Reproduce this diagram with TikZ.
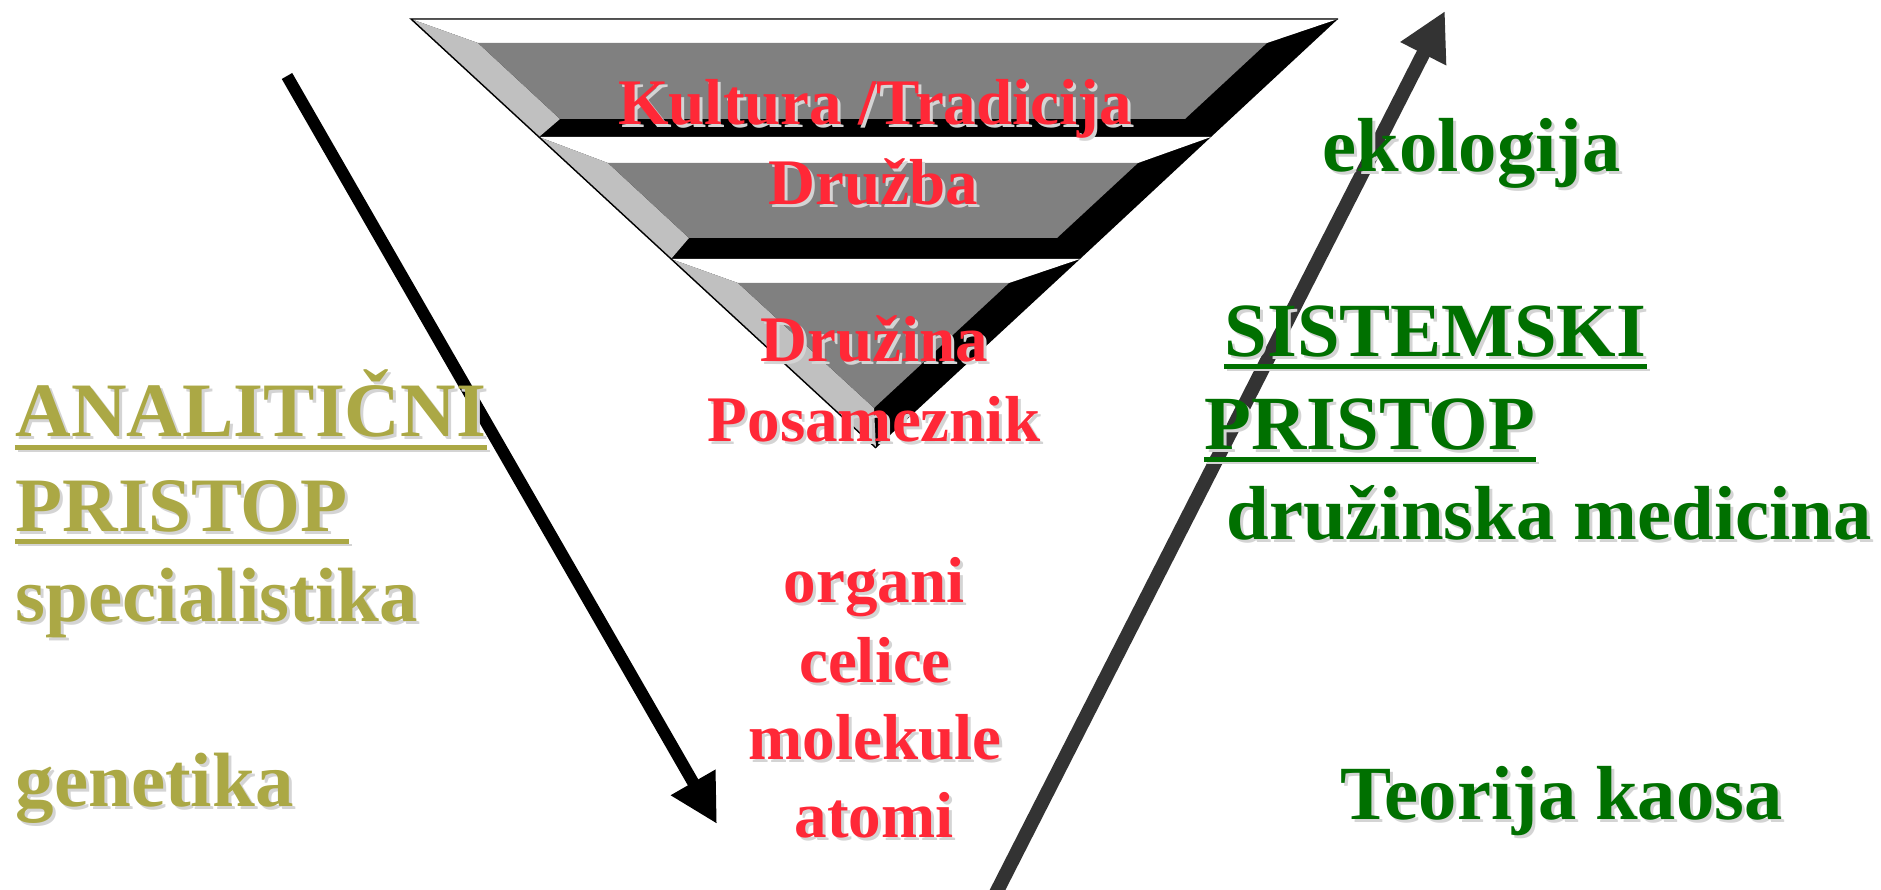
\documentclass[tikz,border=0pt]{standalone}
\usepackage{fontspec}
\setmainfont{Liberation Serif}
\usepackage{tikz}
\usetikzlibrary{arrows.meta}

\definecolor{pyrred}{HTML}{FF2837}
\definecolor{anaolive}{HTML}{ABA845}
\definecolor{sysgreen}{HTML}{007000}
\definecolor{facegray}{HTML}{808080}
\definecolor{bevelgray}{HTML}{C0C0C0}
\definecolor{shadowgray}{HTML}{D4D4D4}
\definecolor{arrowgray}{HTML}{333333}

% text with a soft drop shadow
\newcommand{\shadowed}[4]{%
  \node[#2, text=shadowgray, xshift=0.03cm, yshift=-0.03cm] (#1sh) at (#3) {#4};
  \node[#2] (#1) at (#3) {#4};
}

\begin{document}
\begin{tikzpicture}[
  line join=miter,
  layer/.style={text=pyrred, font=\fontsize{18.5}{20}\selectfont\bfseries,
    inner sep=0pt, anchor=base},
  analabel/.style={text=anaolive, font=\fontsize{21.9}{24}\selectfont\bfseries,
    inner sep=0pt, anchor=base west},
  syslabel/.style={text=sysgreen, font=\fontsize{21.8}{24}\selectfont\bfseries,
    inner sep=0pt, anchor=base west},
  uline/.style={line width=0.05cm,
    preaction={draw=shadowgray, transform canvas={shift={(0.03,-0.03)}}}},
  trend/.style={line width=0.12cm, -{Triangle[length=4.8mm,width=4.8mm]}}
]
\useasboundingbox[fill=white] (0,0) rectangle (18.81,8.90);

% Pyramid: three bevelled bands, light from the upper left
% band 1
\fill[black] (4.11,8.71) -- (13.38,8.71) -- (12.11,7.53) -- (5.39,7.53) -- cycle;
\fill[white] (4.11,8.71) -- (13.38,8.71) -- (12.67,8.47) -- (4.78,8.47) -- cycle;
\fill[bevelgray] (4.11,8.71) -- (4.78,8.47) -- (5.60,7.71) -- (5.39,7.53) -- cycle;
\fill[facegray] (4.78,8.47) -- (12.67,8.47) -- (11.85,7.71) -- (5.60,7.71) -- cycle;
% band 2
\fill[black] (5.39,7.53) -- (12.11,7.53) -- (10.80,6.31) -- (6.71,6.31) -- cycle;
\fill[white] (5.39,7.53) -- (12.11,7.53) -- (11.38,7.27) -- (6.08,7.27) -- cycle;
\fill[bevelgray] (5.39,7.53) -- (6.08,7.27) -- (6.89,6.52) -- (6.71,6.31) -- cycle;
\fill[facegray] (6.08,7.27) -- (11.38,7.27) -- (10.57,6.52) -- (6.89,6.52) -- cycle;
% band 3
\fill[black] (6.71,6.31) -- (10.80,6.31) -- (8.76,4.42) -- cycle;
\fill[white] (6.71,6.31) -- (10.80,6.31) -- (10.09,6.07) -- (7.38,6.07) -- cycle;
\fill[bevelgray] (6.71,6.31) -- (7.38,6.07) -- (8.74,4.82) -- (8.76,4.42) -- cycle;
\fill[facegray] (7.38,6.07) -- (10.09,6.07) -- (8.74,4.82) -- cycle;
\draw[line width=0.4pt] (13.38,8.71) -- (4.11,8.71) -- (8.76,4.42);

% Arrows: analysis goes down, systems thinking goes up
\coordinate (anastart) at (2.87,8.14);
\coordinate (anaend) at (7.17,0.66);
\coordinate (sysstart) at (9.95,-0.05);
\coordinate (sysend) at (14.45,8.79);
\draw[trend] (anastart) -- (anaend);
\draw[trend, arrowgray, line width=0.14cm] (sysstart) -- (sysend);

% Levels
\shadowed{kultura}{layer}{8.75,7.65}{Kultura /Tradicija}
\shadowed{druzba}{layer}{8.73,6.85}{Družba}
\shadowed{druzina}{layer}{8.74,5.28}{Družina}
\shadowed{posameznik}{layer}{8.74,4.48}{Posameznik}
\shadowed{organi}{layer}{8.74,2.87}{organi}
\shadowed{celice}{layer}{8.75,2.07}{celice}
\shadowed{molekule}{layer}{8.75,1.30}{molekule}
\shadowed{atomi}{layer}{8.74,0.52}{atomi}

% Left: analytic approach
\shadowed{analiticni}{analabel}{0.15,4.53}{ANALITIČNI}
\shadowed{anapristop}{analabel}{0.15,3.58}{PRISTOP}
\shadowed{specialistika}{analabel}{0.15,2.68}{specialistika}
\shadowed{genetika}{analabel}{0.15,0.83}{genetika}
\draw[uline, anaolive] ([yshift=-0.11cm]analiticni.base west) -- ([yshift=-0.11cm]analiticni.base east);
\draw[uline, anaolive] ([yshift=-0.10cm]anapristop.base west) -- ([yshift=-0.10cm]anapristop.base east);

% Right: systems approach
\shadowed{ekologija}{syslabel}{13.22,7.18}{ekologija}
\shadowed{sistemski}{syslabel}{12.24,5.33}{SISTEMSKI}
\shadowed{syspristop}{syslabel}{12.04,4.40}{PRISTOP}
\shadowed{medicina}{syslabel}{12.26,3.50}{družinska medicina}
\shadowed{kaos}{syslabel}{13.40,0.70}{Teorija kaosa}
\draw[uline, sysgreen] ([yshift=-0.10cm]sistemski.base west) -- ([yshift=-0.10cm]sistemski.base east);
\draw[uline, sysgreen] ([yshift=-0.10cm]syspristop.base west) -- ([yshift=-0.10cm]syspristop.base east);
\end{tikzpicture}
\end{document}
